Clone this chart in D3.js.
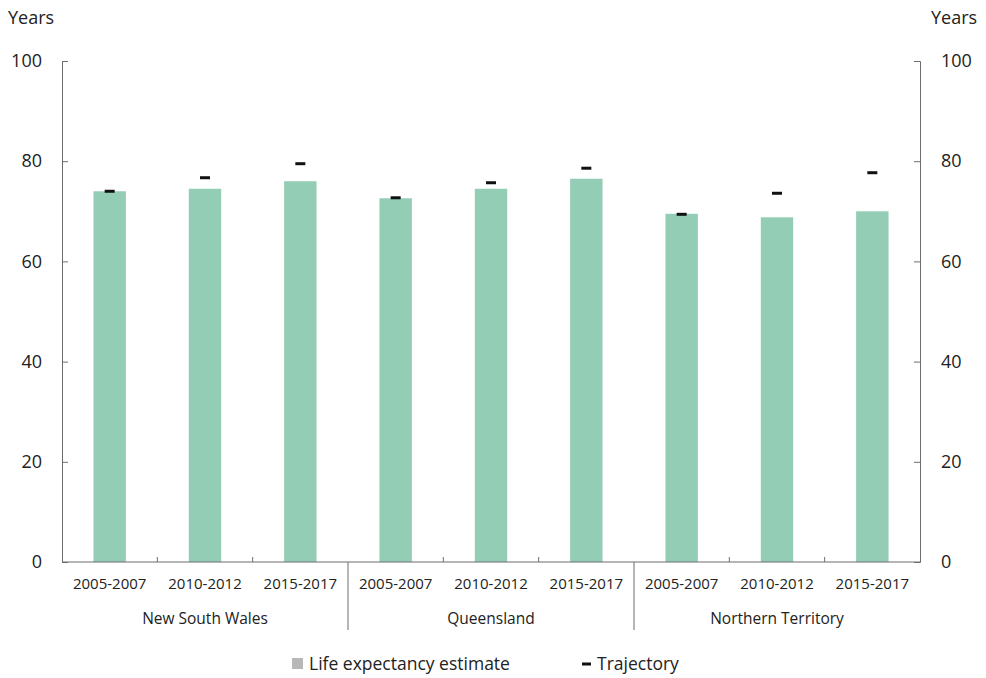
<!DOCTYPE html>
<html>
<head>
<meta charset="utf-8">
<script src="https://cdn.jsdelivr.net/npm/d3@7"></script>
<style>
  body { margin: 0; background: #fff; }
  svg text { font-family: "Open Sans", "Noto Sans", sans-serif; fill: #222; }
</style>
</head>
<body>
<svg id="chart" width="986" height="678"></svg>
<script>
// data
var groups = ['New South Wales', 'Queensland', 'Northern Territory'];
var periods = ['2005-2007', '2010-2012', '2015-2017'];
var estimate = [74.0, 74.5, 76.0, 72.6, 74.5, 76.5, 69.5, 68.8, 70.0];
var trajectory = [74.0, 76.7, 79.5, 72.7, 75.7, 78.6, 69.4, 73.6, 77.7];
var yTicks = [0, 20, 40, 60, 80, 100];

var svg = d3.select('#chart');
var margin = { top: 61, right: 66, bottom: 116, left: 62 };
var width = 986 - margin.left - margin.right,
    height = 678 - margin.top - margin.bottom;

// one slot per group/period pair
var keys = [];
groups.forEach(function(g, gi) {
    periods.forEach(function(p, pi) {
        keys.push({ group: g, period: p, idx: gi * periods.length + pi });
    });
});

var x = d3.scaleBand()
    .domain(keys.map(d => d.idx))
    .range([0, width])
    .paddingInner(0.66)
    .paddingOuter(0.33);

var y = d3.scaleLinear().domain([0, 100]).range([height, 0]);

var g = svg.append('g').attr('transform', 'translate(' + margin.left + ',' + margin.top + ')');

// bars
g.append('g')
    .selectAll('rect')
    .data(keys)
    .join('rect')
    .attr('x', d => x(d.idx))
    .attr('width', x.bandwidth())
    .attr('y', d => y(estimate[d.idx]))
    .attr('height', d => height - y(estimate[d.idx]))
    .attr('fill', '#93cdb6');

// trajectory dashes
g.append('g')
    .selectAll('rect')
    .data(keys)
    .join('rect')
    .attr('x', d => x(d.idx) + x.bandwidth() / 2 - 5)
    .attr('width', 10)
    .attr('y', d => y(trajectory[d.idx]) - 1.5)
    .attr('height', 3)
    .attr('fill', '#111');

// left and right axes
var axisColor = '#6d6d6d';
var left = g.append('g')
    .call(d3.axisLeft(y).tickValues(yTicks).tickSize(-6).tickPadding(20));
var right = g.append('g')
    .attr('transform', 'translate(' + width + ',0)')
    .call(d3.axisRight(y).tickValues(yTicks).tickSize(-6).tickPadding(21));
[left, right].forEach(function(a) {
    a.select('.domain').attr('stroke', axisColor);
    a.selectAll('.tick line').attr('stroke', axisColor);
    a.selectAll('.tick text')
        .attr('font-size', 18)
        .attr('font-family', '"Open Sans", "Noto Sans", sans-serif')
        .attr('fill', '#222');
});

// bottom axis
var step = width / keys.length;
var bottom = g.append('g').attr('transform', 'translate(0,' + height + ')');
bottom.append('line')
    .attr('x1', 0).attr('x2', width)
    .attr('stroke', axisColor);
d3.range(1, keys.length).forEach(function(i) {
    var isGroup = i % periods.length === 0;
    bottom.append('line')
        .attr('x1', i * step).attr('x2', i * step)
        .attr('y1', isGroup ? 68 : 0)
        .attr('y2', isGroup ? 0 : -5)
        .attr('stroke', axisColor);
});
bottom.selectAll('text.period')
    .data(keys)
    .join('text')
    .attr('class', 'period')
    .attr('x', d => x(d.idx) + x.bandwidth() / 2)
    .attr('y', 27)
    .attr('text-anchor', 'middle')
    .attr('font-size', 15)
    .text(d => d.period);
bottom.selectAll('text.group')
    .data(groups)
    .join('text')
    .attr('class', 'group')
    .attr('x', (d, i) => (i + 0.5) * periods.length * step)
    .attr('y', 62)
    .attr('text-anchor', 'middle')
    .attr('font-size', 15.5)
    .text(d => d);

// unit labels
svg.append('text').attr('x', 8).attr('y', 24).attr('font-size', 18).text('Years');
svg.append('text').attr('x', 931).attr('y', 24).attr('font-size', 18).text('Years');

// legend
var legend = svg.append('g').attr('transform', 'translate(0,664)');
legend.append('rect').attr('x', 292).attr('y', -6).attr('width', 11).attr('height', 11).attr('fill', '#b8b8b8');
legend.append('text').attr('x', 309).attr('y', 6).attr('font-size', 17.5).text('Life expectancy estimate');
legend.append('rect').attr('x', 582).attr('y', -1.5).attr('width', 9).attr('height', 3).attr('fill', '#111');
legend.append('text').attr('x', 597).attr('y', 6).attr('font-size', 17.5).text('Trajectory');
</script>
</body>
</html>
